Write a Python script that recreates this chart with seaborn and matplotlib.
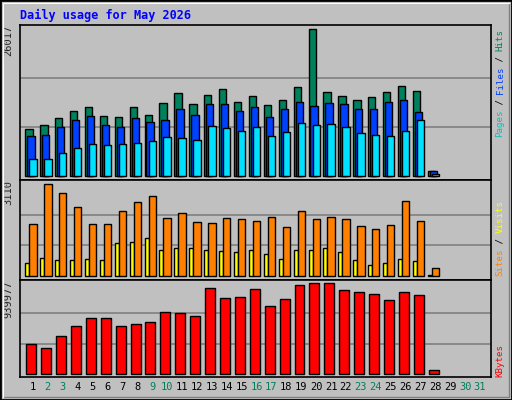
import numpy as np
import matplotlib
matplotlib.use("Agg")
import matplotlib.pyplot as plt
import seaborn as sns
from matplotlib.patches import Rectangle

days = list(range(1, 32))
hits = [8358, 9065, 10301, 11537, 12243, 10654, 10477, 12243, 10831, 12950, 14716, 12773, 14362, 15422,
        13126, 14186, 12597, 13479, 15775, 26017, 14892, 14186, 13479, 14009, 14892, 15952, 15069, 942]
files = [7122, 7299, 8712, 9948, 10654, 9065, 8712, 10301, 9595, 9948, 11890, 10831, 12773, 12773,
         11537, 12243, 10477, 11890, 13126, 12420, 12950, 12773, 11890, 11890, 13126, 13479, 11361, 942]
pages = [3061, 3061, 4120, 5003, 5710, 5533, 5710, 5886, 6239, 6946, 6769, 6416, 8888, 8535,
         8005, 8712, 7122, 7829, 9418, 9065, 9241, 8712, 7652, 7299, 7122, 8005, 9948, 471]
sites = [1758, 3110, 2806, 2332, 1758, 1758, 2197, 2502, 2704, 1961, 2130, 1825, 1792, 1961,
         1927, 1859, 1994, 1656, 2197, 1927, 1994, 1927, 1690, 1589, 1724, 2535, 1859, 270]
visits = [439, 608, 541, 541, 575, 541, 1116, 1149, 1285, 879, 947, 947, 879, 845,
          811, 879, 744, 575, 879, 879, 947, 811, 541, 372, 439, 575, 507, 34]
kbytes = [312000, 271000, 394600, 497400, 579800, 579800, 497400, 518000, 538600, 641500, 631200, 600400,
          888500, 785600, 795900, 878200, 703300, 775300, 919400, 939977, 939977, 867900, 847400, 826800,
          765000, 847400, 816500, 41200]
weekend = [2, 3, 9, 10, 16, 17, 23, 24, 30, 31]

sns.set_theme(style="white")
plt.rcParams['font.family'] = ['DejaVu Sans Mono']

BG = '#C0C0C0'
W, H = 512, 400
fig = plt.figure(figsize=(5.12, 4.0), dpi=100, facecolor=BG)

# frame bevel
fig.patches.append(Rectangle((0, 0), 1, 1, transform=fig.transFigure, fill=False, ec='black', lw=2))
fig.patches.append(Rectangle((3 / W, 3 / H), 1 - 6 / W, 1 - 6 / H, transform=fig.transFigure,
                             fill=False, ec='#808080', lw=1))
fig.add_artist(plt.Line2D([3 / W, 3 / W, 1 - 3 / W], [3 / H, 1 - 3 / H, 1 - 3 / H],
                          transform=fig.transFigure, color='white', lw=1))


def mkax(top, bottom):
    ax = fig.add_axes([20 / W, 1 - bottom / H, 471 / W, (bottom - top) / H], facecolor=BG)
    for s in ax.spines.values():
        s.set_color('black')
        s.set_linewidth(1.2)
    ax.set_xlim(1 - 13 / 15, 31 + 11 / 15)
    ax.set_xticks([])
    return ax


def setup_y(ax, vmax, px):
    pad = vmax * 3.5 / px
    ax.set_ylim(-pad, vmax + pad)
    for g in (vmax / 3, 2 * vmax / 3):
        ax.axhline(g, color='#808080', lw=1.2, zorder=0)
    ax.set_yticks([])
    ax.text(-0.025, 1, str(vmax), transform=ax.transAxes, rotation=90, ha='center', va='top', fontsize=7.5)


n = len(hits)
x = np.arange(1, n + 1)
ec = dict(edgecolor='black', linewidth=1, align='edge')

ax1 = mkax(25, 180)
ax1.bar(x - 0.51, hits, width=0.49, color='#00805C', **ec)
ax1.bar(x - 0.38, files, width=0.49, color='#0040FF', **ec)
ax1.bar(x - 0.24, pages, width=0.49, color='#00E0FF', **ec)
setup_y(ax1, max(hits), 147)

ax2 = mkax(180, 280)
ax2.bar(x - 0.51, visits, width=0.27, color='#FFFF00', **ec)
ax2.bar(x - 0.24, sites, width=0.49, color='#FF8000', **ec)
setup_y(ax2, max(sites), 92)

ax3 = mkax(280, 377)
ax3.bar(x - 0.45, kbytes, width=0.67, color='#FF0000', **ec)
setup_y(ax3, max(kbytes), 91)

fig.text(20 / W, 1 - 15 / H, 'Daily usage for May 2026', color='#0000FF', fontsize=8.5,
         fontweight='bold', va='center', ha='left')

for d in days:
    ax3.text(d, -0.1, str(d), transform=ax3.get_xaxis_transform(), ha='center', va='center',
             fontsize=7.5, color='#00805C' if d in weekend else 'black')


def side_label(parts, bottom_px):
    adv = 5.4
    y = bottom_px
    for txt, col in parts:
        fig.text(500 / W, 1 - y / H, txt, color=col, rotation=90, ha='center', va='bottom', fontsize=6.6)
        y -= adv * len(txt)


side_label([('Pages', '#00C0C0'), (' / ', 'black'), ('Files', '#0040FF'), (' / ', 'black'),
            ('Hits', '#00805C')], 137)
side_label([('Sites', '#FF8000'), (' / ', 'black'), ('Visits', '#FFFF00')], 276)
side_label([('KBytes', '#FF0000')], 377)

fig.savefig('out.png', dpi=100, facecolor=BG)
